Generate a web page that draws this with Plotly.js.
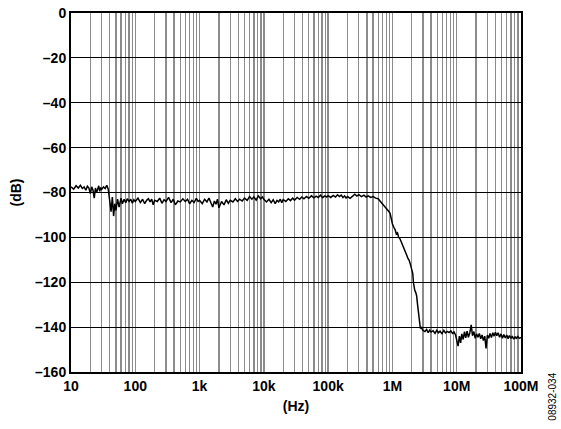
<!DOCTYPE html>
<html>
<head>
<meta charset="utf-8">
<script src="https://cdn.plot.ly/plotly-3.0.1.min.js"></script>
<style>html,body{margin:0;padding:0;background:#fff;}#chart{width:561px;height:429px;}</style>
</head>
<body>
<div id="chart"></div>
<script>
// Frequency (Hz)
const freqHz = [
  10,11,12,13,14,15,16,17,18,19,20,21,22,23,24,25,26,27,28,29,30,32,34,36,38,40,42,44,46,48,50,53,56,60,63,67,71,75,80,85,90,95,
  100,110,120,130,140,150,160,170,180,190,200,220,240,260,280,300,330,360,390,420,460,500,550,600,650,700,760,820,890,950,
  1000,1100,1200,1300,1400,1500,1600,1700,1800,1900,2000,2200,2400,2600,2800,3000,3300,3600,3900,4200,4600,5000,5500,6000,6500,7000,7600,8200,8900,9500,
  10000,11000,12000,13000,14000,15000,16000,17000,18000,19000,20000,22000,24000,26000,28000,30000,33000,36000,39000,42000,46000,50000,55000,60000,65000,70000,76000,82000,89000,95000,
  100000,110000,120000,130000,140000,150000,160000,170000,180000,190000,200000,220000,240000,260000,280000,300000,330000,360000,390000,420000,460000,500000,550000,600000,650000,700000,760000,820000,880000,920000,960000,
  1000000,1050000,1100000,1150000,1200000,1250000,1300000,1350000,1400000,1450000,1500000,1550000,1600000,1670000,1750000,1820000,1880000,1950000,2000000,2070000,2120000,2160000,2220000,2300000,2380000,2450000,2520000,2580000,2640000,2720000,2800000,2900000,
  3000000,3200000,3400000,3600000,3800000,4000000,4300000,4600000,4900000,5200000,5500000,5900000,6300000,6700000,7100000,7600000,8100000,8600000,9100000,9600000,
  10000000,10500000,11000000,11500000,12000000,12600000,13200000,13800000,14500000,15200000,16000000,16800000,17600000,18500000,19400000,20400000,21400000,22500000,23600000,24800000,26000000,27300000,28600000,30000000,31500000,33000000,34700000,36400000,38200000,40000000,42000000,44000000,46500000,49000000,51500000,54000000,57000000,60000000,63000000,66000000,70000000,73000000,77000000,81000000,85000000,89000000,94000000,100000000
];
// Level (dB)
const levelDb = [
  -77.5,-78.5,-77,-78,-76.8,-78.2,-77.5,-79,-77.2,-78,-80.5,-77.5,-79,-82.5,-78,-80,-78.5,-77,-79.5,-77.8,-78.6,-77.5,-78.2,-76.8,-78.5,-84,-88.5,-82,-90.5,-85,-88,-83,-86.5,-82.5,-85,-83,-84.5,-82.8,-84,-83,-84.8,-83.2,
  -84,-82.5,-84.5,-83,-85,-83.5,-82.8,-84.2,-83,-85.5,-83.5,-84,-82.5,-84.8,-83.2,-84,-82.2,-84.5,-83,-85.5,-83.8,-84.2,-82.8,-84,-83,-85,-83.5,-84.5,-82.6,-84,
  -83.5,-85,-83,-84.2,-82.5,-84.6,-86.5,-83.8,-85.2,-83,-86.8,-84,-85.5,-83.2,-84.8,-83.5,-84.2,-82.8,-84,-83,-83.8,-82.5,-83.5,-81.8,-83,-82,-83.4,-81.5,-82.8,-82,
  -83,-84.2,-83,-84.5,-83.2,-85,-83.5,-84.2,-83,-84.5,-83.2,-84,-82.8,-83.6,-82.5,-83.4,-82.2,-83,-82,-82.8,-81.8,-82.6,-81.5,-82.4,-81.6,-82.2,-81.2,-82.3,-81.5,-82,
  -81.4,-82.2,-81.3,-82,-81,-81.8,-81.2,-82.3,-81.5,-82.5,-81.8,-82.6,-81.5,-80.8,-81.6,-81,-81.8,-81.2,-82,-81.5,-82.2,-81.8,-82.5,-82.8,-84,-85,-86.3,-87.5,-88.5,-89.3,-92,
  -94,-95.5,-96.5,-98.5,-98,-100,-100.5,-101.5,-102.5,-104,-104.5,-106,-106.8,-108,-109.5,-110.2,-111.5,-113,-114.5,-116,-120,-122,-123.5,-124.5,-126,-129.5,-133,-136.5,-139.2,-140.6,-140.2,-141.2,
  -141.5,-142,-141,-142.5,-141.3,-142.2,-141.6,-142.8,-141.4,-142.5,-141.8,-142.9,-141.5,-142.6,-141.9,-142.4,-141.7,-142.8,-142.2,-143.5,
  -146,-148.5,-144,-147,-143,-145.5,-142,-144.8,-141.8,-144.5,-142.5,-139,-143.8,-142,-145,-143,-144.5,-142.8,-145.2,-143.5,-146,-144,-149.5,-143.5,-145,-142.8,-144.6,-142.5,-144,-142.3,-143.8,-142.5,-144.5,-143,-145,-143.3,-144.8,-143.5,-145.2,-143.8,-145,-144,-145.4,-144.2,-145.2,-144,-145,-144.6
];
const xTickVals = [10,100,1000,10000,100000,1000000,10000000,100000000];
const xTickText = ['10','100','1k','10k','100k','1M','10M','100M'];
const yTickVals = [0,-20,-40,-60,-80,-100,-120,-140,-160];
const yTickText = ['0','\u201320','\u201340','\u201360','\u201380','\u2013100','\u2013120','\u2013140','\u2013160'];

const tickFont = {family:'Liberation Sans, Arial, sans-serif', size:14, color:'#000', weight:'bold'};

Plotly.newPlot('chart', [{
  x: freqHz, y: levelDb, type:'scatter', mode:'lines',
  line:{color:'#000', width:1.5}, hoverinfo:'skip'
}], {
  width:561, height:429,
  margin:{l:71, r:40, t:13, b:57},
  paper_bgcolor:'#fff', plot_bgcolor:'#fff',
  showlegend:false,
  xaxis:{
    type:'log', range:[1,8],
    tickmode:'array', tickvals:xTickVals, ticktext:xTickText,
    showgrid:true, gridcolor:'#8c8c8c', gridwidth:1.3,
    minor:{dtick:'D1', showgrid:true, gridcolor:'#8c8c8c', gridwidth:1.3, ticks:''},
    showline:true, linecolor:'#000', linewidth:2, mirror:true,
    ticks:'', zeroline:false,
    tickfont:tickFont,
    title:{text:'(Hz)', font:tickFont, standoff:8}
  },
  yaxis:{
    range:[-160,0],
    tickmode:'array', tickvals:yTickVals, ticktext:yTickText,
    showgrid:true, gridcolor:'#000', gridwidth:1,
    showline:true, linecolor:'#000', linewidth:2, mirror:true,
    ticks:'', zeroline:false,
    tickfont:tickFont,
    title:{text:'(dB)', font:tickFont, standoff:10}
  },
  annotations:[{
    text:'08932-034', xref:'paper', yref:'paper', x:1.07, y:-0.07,
    showarrow:false, textangle:-90, xanchor:'center', yanchor:'middle',
    font:{family:'Liberation Sans, Arial, sans-serif', size:10, color:'#000'}
  }]
}, {displayModeBar:false, staticPlot:true});
</script>
</body>
</html>
